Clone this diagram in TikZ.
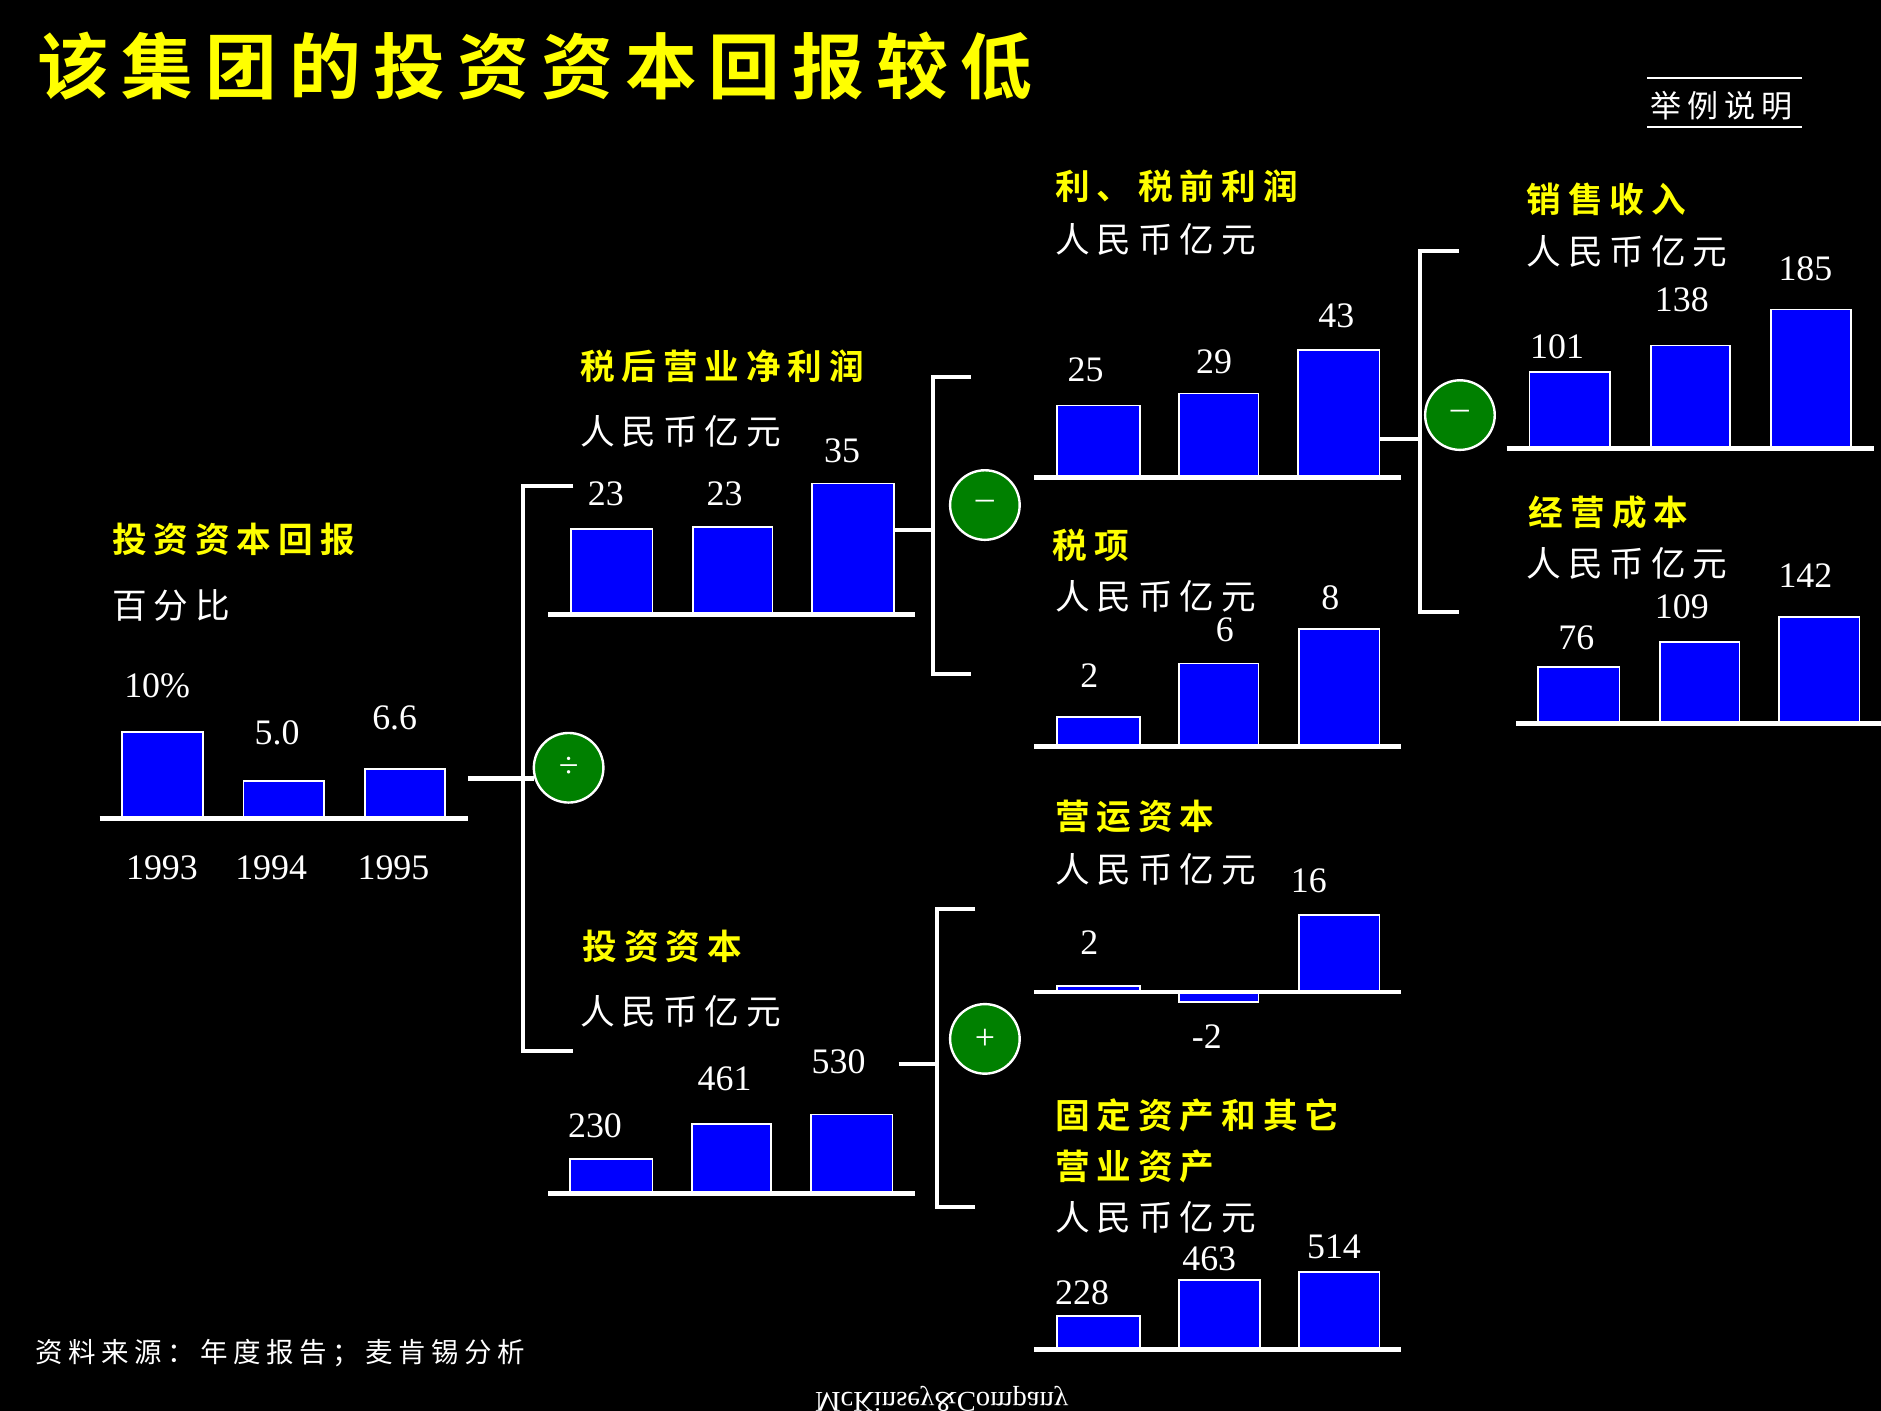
\documentclass[tikz,border=0pt]{standalone}
\usepackage{fontspec}
\setmainfont{Liberation Serif}
\newfontfamily\cjk[LetterSpace=20]{Noto Sans CJK SC}
\newfontfamily\cjkb[LetterSpace=20]{Noto Sans CJK SC Bold}
\newfontfamily\cjkt[LetterSpace=17]{Noto Sans CJK SC Bold}
\newcommand{\mybar}[4]{\fill[barblue,draw=white,line width=1.5] (#1,#4) rectangle (#2,#3);}
\definecolor{barblue}{RGB}{0,0,255}
\definecolor{ttl}{RGB}{255,255,0}
\definecolor{grn}{RGB}{0,128,0}
\begin{document}
\begin{tikzpicture}[x=1bp,y=-1bp,
  ttlS/.style={anchor=west,text=ttl,font=\cjkb\fontsize{29}{33}\selectfont},
  unitS/.style={anchor=west,text=white,font=\cjk\fontsize{29}{33}\selectfont},
  num/.style={text=white,font=\fontsize{30}{34}\selectfont},
  base/.style={white,line width=4},
  conn/.style={white,line width=3.5},
  op/.style={circle,fill=grn,draw=white,line width=2,minimum size=58bp,inner sep=0,text=white,font=\fontsize{30}{30}\selectfont}]
\useasboundingbox (0,0) rectangle (1568,1176);
\fill[black] (0,0) rectangle (1568,1176);
\node[anchor=west,text=ttl,font=\cjkt\fontsize{60}{66}\selectfont] (title) at (28,55) {该集团的投资资本回报较低};
\node[unitS,font=\cjk\fontsize{26}{30}\selectfont] (ill) at (1372,88) {举例说明};
\draw[white,line width=2] (1373,65) -- (1502,65) (1373,106) -- (1502,106);
% ROIC
\node[ttlS] (t1) at (90,450) {投资资本回报};
\node[unitS] (u1) at (90,505) {百分比};
\mybar{102}{169}{610}{682}\mybar{203}{270}{651}{682}\mybar{304}{371}{641}{682}
\draw[base] (83,682) -- (390,682);
\node[num] at (131,572) {10\%};\node[num] at (231,611) {5.0};\node[num] at (329,598) {6.6};
\node[num] at (135,723) {1993};\node[num] at (226,723) {1994};\node[num] at (328,723) {1995};
\draw[conn] (390,649) -- (445,649);
\draw[conn] (478,405) -- (436,405) -- (436,876) -- (478,876);
\node[op] (c1) at (474,640) {÷};
% NOPAT
\node[ttlS] at (480,305) {税后营业净利润};
\node[unitS] at (480,360) {人民币亿元};
\mybar{476}{544}{441}{512}\mybar{578}{644}{439}{512}\mybar{677}{745}{403}{512}
\draw[base] (457,512) -- (763,512);
\node[num] at (505,412) {23};\node[num] at (604,412) {23};\node[num] at (702,376) {35};
\draw[conn] (745,442) -- (778,442);
\draw[conn] (809,314) -- (778,314) -- (778,562) -- (809,562);
\node[op] (c2) at (821,421) {--};
% EBIT
\node[ttlS] at (876,155) {利、税前利润};
\node[unitS] at (876,200) {人民币亿元};
\mybar{881}{950}{338}{398}\mybar{983}{1049}{328}{398}\mybar{1082}{1150}{292}{398}
\draw[base] (862,398) -- (1168,398);
\node[num] at (905,308) {25};\node[num] at (1012,302) {29};\node[num] at (1114,263) {43};
\draw[conn] (1150,366) -- (1184,366);
\draw[conn] (1216,209) -- (1184,209) -- (1184,510) -- (1216,510);
\node[op] (c3) at (1217,346) {--};
% Taxes
\node[ttlS] at (874,455) {税项};
\node[unitS] at (876,497) {人民币亿元};
\mybar{881}{950}{598}{622}\mybar{983}{1049}{553}{622}\mybar{1083}{1150}{524}{622}
\draw[base] (862,622) -- (1168,622);
\node[num] at (908,563) {2};\node[num] at (1021,525) {6};\node[num] at (1109,498) {8};
% Sales
\node[ttlS] at (1269,166) {销售收入};
\node[unitS] at (1269,210) {人民币亿元};
\mybar{1275}{1342}{310}{374}\mybar{1376}{1442}{288}{374}\mybar{1476}{1543}{258}{374}
\draw[base] (1256,374) -- (1562,374);
\node[num] at (1298,289) {101};\node[num] at (1402,250) {138};\node[num] at (1505,224) {185};
% Op cost
\node[ttlS] at (1271,427) {经营成本};
\node[unitS] at (1269,470) {人民币亿元};
\mybar{1282}{1350}{556}{603}\mybar{1384}{1450}{535}{603}\mybar{1483}{1550}{514}{603}
\draw[base] (1264,603) -- (1568,603);
\node[num] at (1314,532) {76};\node[num] at (1402,506) {109};\node[num] at (1505,480) {142};
% Invested capital
\node[ttlS] at (482,789) {投资资本};
\node[unitS] at (480,843) {人民币亿元};
\mybar{475}{544}{966}{995}\mybar{577}{643}{937}{995}\mybar{676}{744}{929}{995}
\draw[base] (457,995) -- (763,995);
\node[num] at (496,938) {230};\node[num] at (604,899) {461};\node[num] at (699,885) {530};
\draw[conn] (749,887) -- (781,887);
\draw[conn] (813,758) -- (781,758) -- (781,1006) -- (813,1006);
\node[op] (c4) at (821,866) {+};
% Working capital
\node[ttlS] at (876,681) {营运资本};
\node[unitS] at (876,725) {人民币亿元};
\mybar{881}{950}{822}{827}\mybar{983}{1049}{835}{827}\mybar{1083}{1150}{763}{827}
\draw[base] (862,827) -- (1168,827);
\node[num] at (908,786) {2};\node[num] at (1006,864) {-2};\node[num] at (1091,734) {16};
% Fixed assets
\node[ttlS] at (876,930) {固定资产和其它};
\node[ttlS] at (876,972) {营业资产};
\node[unitS] at (876,1015) {人民币亿元};
\mybar{881}{950}{1097}{1125}\mybar{983}{1050}{1067}{1125}\mybar{1083}{1150}{1060}{1125}
\draw[base] (862,1125) -- (1168,1125);
\node[num] at (902,1078) {228};\node[num] at (1008,1049) {463};\node[num] at (1112,1039) {514};
% footer
\node[unitS,font=\cjk\fontsize{23}{27}\selectfont] (src) at (26,1128) {资料来源：年度报告；麦肯锡分析};
\node[text=white,font=\fontsize{24}{26}\selectfont,yscale=-1] (mck) at (785,1166) {McKinsey\&Company};
\end{tikzpicture}
\end{document}
